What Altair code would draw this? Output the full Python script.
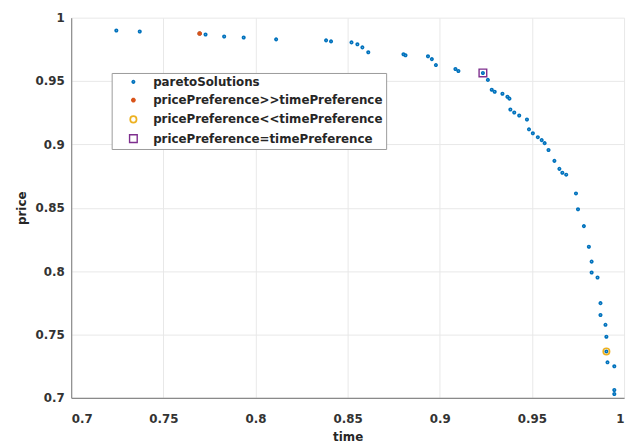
import altair as alt
import pandas as pd

# Pareto front (time, price)
pareto_time = [0.7245, 0.7372, 0.7697, 0.7729, 0.7830, 0.7936, 0.8112, 0.8383, 0.8410, 0.8521,
               0.8553, 0.8580, 0.8612, 0.8803, 0.8814, 0.8936, 0.8957, 0.8979, 0.9085, 0.9101,
               0.9234, 0.9261, 0.9282, 0.9298, 0.9340, 0.9367, 0.9378, 0.9383, 0.9404, 0.9431,
               0.9473, 0.9484, 0.9505, 0.9532, 0.9553, 0.9569, 0.9590, 0.9622, 0.9649, 0.9665,
               0.9686, 0.9739, 0.9750, 0.9782, 0.9809, 0.9824, 0.9824, 0.9856, 0.9872, 0.9872,
               0.9899, 0.9904, 0.9904, 0.9910, 0.9947, 0.9947, 0.9947]
pareto_price = [0.9899, 0.9891, 0.9875, 0.9867, 0.9852, 0.9844, 0.9829, 0.9821, 0.9813, 0.9805,
                0.9790, 0.9766, 0.9727, 0.9712, 0.9704, 0.9696, 0.9673, 0.9626, 0.9595, 0.9579,
                0.9564, 0.9509, 0.9431, 0.9415, 0.9400, 0.9376, 0.9361, 0.9275, 0.9252, 0.9228,
                0.9197, 0.9119, 0.9088, 0.9057, 0.9034, 0.9010, 0.8956, 0.8870, 0.8807, 0.8776,
                0.8761, 0.8613, 0.8488, 0.8355, 0.8192, 0.8075, 0.7989, 0.7950, 0.7747, 0.7654,
                0.7576, 0.7482, 0.7366, 0.7280, 0.7249, 0.7062, 0.7030]

series_names = ["paretoSolutions", "pricePreference>>timePreference",
                "pricePreference<<timePreference", "pricePreference=timePreference"]
special_time = [0.7697, 0.9904, 0.9234]
special_price = [0.9875, 0.7366, 0.9564]

series_colors = ["#0072BD", "#D95319", "#EDB120", "#7E2F8E"]
asterisk = "M-1,0L1,0M0,-1L0,1M-0.7,-0.7L0.7,0.7M-0.7,0.7L0.7,-0.7"
series_shapes = ["circle", asterisk, "circle", "square"]
series_sizes = [3, 60, 110, 100]
series_strokes = [2.4, 1.4, 2.2, 1.6]

x_ticks = [0.7, 0.75, 0.8, 0.85, 0.9, 0.95, 1.0]
y_ticks = [0.7, 0.75, 0.8, 0.85, 0.9, 0.95, 1.0]

rows = [{"time": t, "price": p, "series": series_names[0]} for t, p in zip(pareto_time, pareto_price)]
for name, t, p in zip(series_names[1:], special_time, special_price):
    rows.append({"time": t, "price": p, "series": name})
df = pd.DataFrame(rows)

font = "DejaVu Sans"

chart = alt.Chart(df).mark_point(filled=False, opacity=1).encode(
    x=alt.X("time:Q", title="time",
            scale=alt.Scale(domain=[0.7, 1.0], nice=False, zero=False),
            axis=alt.Axis(values=x_ticks, format="~g", grid=True, tickSize=0,
                          labelPadding=16, titlePadding=7)),
    y=alt.Y("price:Q", title="price",
            scale=alt.Scale(domain=[0.7, 1.0], nice=False, zero=False),
            axis=alt.Axis(values=y_ticks, format="~g", grid=True, tickSize=0,
                          labelPadding=7, titlePadding=7)),
    color=alt.Color("series:N", title=None, sort=series_names,
                    scale=alt.Scale(domain=series_names, range=series_colors)),
    shape=alt.Shape("series:N", title=None, sort=series_names,
                    scale=alt.Scale(domain=series_names, range=series_shapes)),
    size=alt.Size("series:N", title=None, sort=series_names,
                  scale=alt.Scale(domain=series_names, range=series_sizes)),
    strokeWidth=alt.StrokeWidth("series:N", title=None, sort=series_names,
                                scale=alt.Scale(domain=series_names, range=series_strokes)),
    order=alt.Order("order:Q"),
).transform_calculate(
    order="datum.series == 'paretoSolutions' ? 0 : 1"
).properties(
    width=560, height=385,
    autosize=alt.AutoSizeParams(type="none"),
    padding={"left": 64, "top": 7, "right": 6, "bottom": 46},
).configure_view(
    stroke=None
).configure_axis(
    labelFont=font, titleFont=font, labelFontSize=12, titleFontSize=12,
    labelFontWeight="bold", titleFontWeight="bold",
    labelColor="#333333", titleColor="#262626",
    gridColor="#e8e8e8", gridWidth=1, domainColor="#8a8a8a", domainWidth=1.2,
).configure_axisY(
    titleAngle=270
).configure_legend(
    orient="none", legendX=41, legendY=56,
    labelFont=font, labelFontSize=12, labelFontWeight="bold", labelColor="#262626",
    labelLimit=400,
    strokeColor="#9a9a9a", fillColor="white", padding=3, rowPadding=5.5,
    symbolOffset=13, labelOffset=14, cornerRadius=0,
)

chart.save("out.html", embed_options={"renderer": "svg", "actions": False})
